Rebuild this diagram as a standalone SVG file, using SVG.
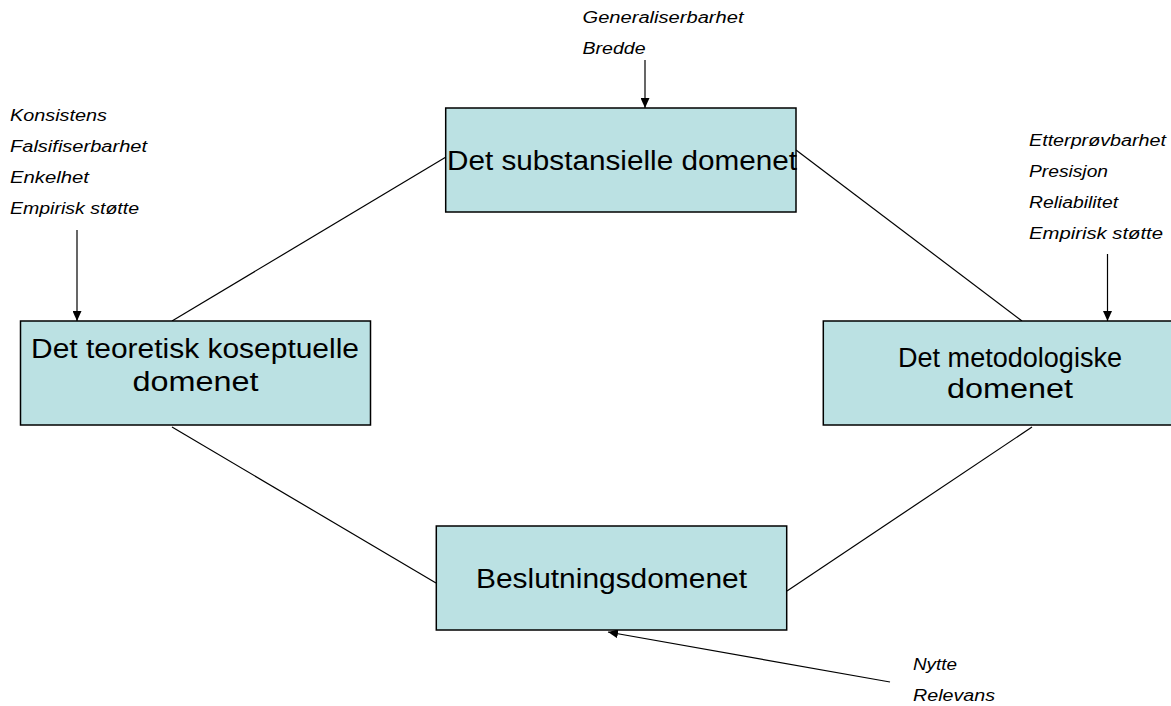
<svg xmlns="http://www.w3.org/2000/svg" width="1171" height="706" viewBox="0 0 1171 706">
<style>
.box{fill:#BBE1E3;stroke:#000;stroke-width:1.5}
.nt{font-family:"Liberation Sans",Arial,sans-serif;font-size:27px;fill:#000}
.lb{font-family:"Liberation Sans",Arial,sans-serif;font-size:16px;font-style:italic;fill:#000}
.cn{stroke:#000;stroke-width:1.2;fill:none}
.ar{stroke:#000;stroke-width:1.2;fill:none;marker-end:url(#ah)}
</style>
<defs>
<marker id="ah" markerUnits="userSpaceOnUse" markerWidth="10" markerHeight="9" refX="10" refY="4.5" orient="auto">
<path d="M0,0 L10,4.5 L0,9 z" fill="#000"/>
</marker>
</defs>
<rect width="1171" height="706" fill="#fff"/>
<g id="connectors">
<line class="cn" x1="172" y1="321" x2="446" y2="157"/>
<line class="cn" x1="796" y1="150" x2="1022" y2="321"/>
<line class="cn" x1="172" y1="427" x2="436" y2="583"/>
<line class="cn" x1="1032" y1="427" x2="787" y2="591"/>
<line class="ar" x1="645" y1="60" x2="645" y2="108"/>
<line class="ar" x1="77" y1="230" x2="77" y2="321"/>
<line class="ar" x1="1107.5" y1="254" x2="1107.5" y2="321"/>
<line class="ar" x1="890" y1="682" x2="608" y2="632"/>
</g>
<g id="node-substansielle">
<rect class="box" x="445.7" y="108" width="350.3" height="104"/>
<text class="nt" x="447" y="170" textLength="350" lengthAdjust="spacingAndGlyphs">Det substansielle domenet</text>
</g>
<g id="node-teoretisk">
<rect class="box" x="20.5" y="321" width="350" height="104"/>
<text class="nt" x="31" y="358" textLength="328" lengthAdjust="spacingAndGlyphs">Det teoretisk koseptuelle</text>
<text class="nt" x="132.5" y="391" textLength="126" lengthAdjust="spacingAndGlyphs">domenet</text>
</g>
<g id="node-metodologiske">
<rect class="box" x="823.3" y="321" width="350" height="104"/>
<text class="nt" x="898" y="367" textLength="224" lengthAdjust="spacingAndGlyphs">Det metodologiske</text>
<text class="nt" x="947" y="398" textLength="126" lengthAdjust="spacingAndGlyphs">domenet</text>
</g>
<g id="node-beslutning">
<rect class="box" x="436.3" y="526" width="350.4" height="104"/>
<text class="nt" x="476" y="588" textLength="271" lengthAdjust="spacingAndGlyphs">Beslutningsdomenet</text>
</g>
<g id="labels-top">
<text class="lb" x="582.5" y="23" textLength="161" lengthAdjust="spacingAndGlyphs">Generaliserbarhet</text>
<text class="lb" x="582.5" y="54" textLength="63" lengthAdjust="spacingAndGlyphs">Bredde</text>
</g>
<g id="labels-left">
<text class="lb" x="10" y="121" textLength="97" lengthAdjust="spacingAndGlyphs">Konsistens</text>
<text class="lb" x="10" y="152" textLength="137" lengthAdjust="spacingAndGlyphs">Falsifiserbarhet</text>
<text class="lb" x="10" y="183" textLength="79" lengthAdjust="spacingAndGlyphs">Enkelhet</text>
<text class="lb" x="10" y="214" textLength="129" lengthAdjust="spacingAndGlyphs">Empirisk støtte</text>
</g>
<g id="labels-right">
<text class="lb" x="1029" y="146" textLength="137" lengthAdjust="spacingAndGlyphs">Etterprøvbarhet</text>
<text class="lb" x="1029" y="177" textLength="79" lengthAdjust="spacingAndGlyphs">Presisjon</text>
<text class="lb" x="1029" y="208" textLength="89" lengthAdjust="spacingAndGlyphs">Reliabilitet</text>
<text class="lb" x="1029" y="239" textLength="134" lengthAdjust="spacingAndGlyphs">Empirisk støtte</text>
</g>
<g id="labels-bottom">
<text class="lb" x="913" y="670" textLength="44" lengthAdjust="spacingAndGlyphs">Nytte</text>
<text class="lb" x="913" y="701" textLength="82" lengthAdjust="spacingAndGlyphs">Relevans</text>
</g>
</svg>
